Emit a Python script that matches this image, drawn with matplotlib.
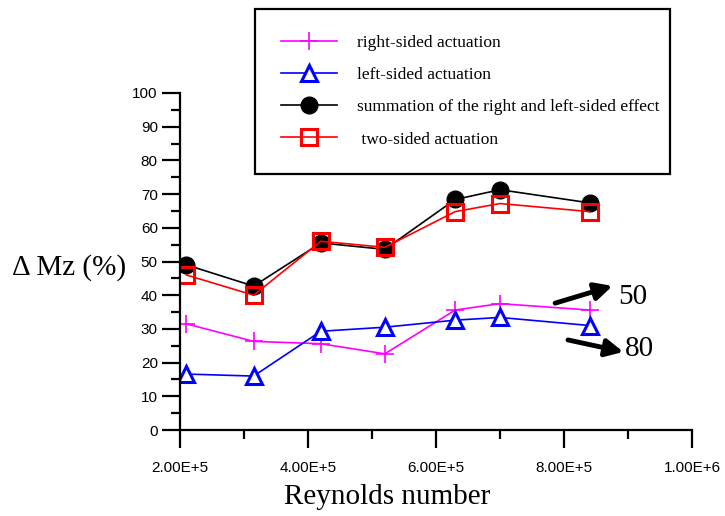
import matplotlib
matplotlib.use("Agg")
import matplotlib.pyplot as plt
from matplotlib.ticker import MultipleLocator, FuncFormatter

# data
reynolds = [2.1e5, 3.15e5, 4.2e5, 5.2e5, 6.3e5, 7.0e5, 8.4e5]
right_sided = [31.5, 26.3, 25.6, 22.6, 35.6, 37.5, 35.6]
left_sided = [16.6, 16.0, 29.3, 30.5, 32.6, 33.4, 31.0]
summation = [49.0, 42.7, 55.5, 53.6, 68.4, 71.3, 67.4]
two_sided = [46.0, 40.0, 56.0, 54.2, 64.8, 67.2, 64.8]

labels = ["right-sided actuation", "left-sided actuation",
          "summation of the right and left-sided effect", " two-sided actuation"]

W, H = 725, 516
fig = plt.figure(figsize=(W / 100, H / 100), dpi=100)
ax = fig.add_axes([180 / W, 86 / H, 512 / W, 337 / H])

ax.plot(reynolds, right_sided, color="#ff00ff", lw=1.2, marker="+", ms=13, mew=1.2,
        label=labels[0])
ax.plot(reynolds, left_sided, color="#0000ff", lw=1.2, marker="^", ms=11, mew=2.2,
        mfc="white", label=labels[1])
ax.plot(reynolds, summation, color="black", lw=1.2, marker="o", ms=12,
        label=labels[2])
ax.plot(reynolds, two_sided, color="#ff0000", lw=1.2, marker="s", ms=11, mew=2.2,
        mfc="none", label=labels[3])

ax.set_xlim(2e5, 1e6)
ax.set_ylim(0, 100)
ax.spines["top"].set_visible(False)
ax.spines["right"].set_visible(False)
for s in ("left", "bottom"):
    ax.spines[s].set_linewidth(1.6)

ax.xaxis.set_major_locator(MultipleLocator(2e5))
ax.xaxis.set_minor_locator(MultipleLocator(1e5))
ax.yaxis.set_major_locator(MultipleLocator(10))
ax.yaxis.set_minor_locator(MultipleLocator(5))


def sci(v, pos):
    e = 0
    while v >= 10 ** (e + 1):
        e += 1
    return f"{v / 10 ** e:.2f}E+{e}"


ax.xaxis.set_major_formatter(FuncFormatter(sci))
ax.tick_params(which="major", direction="out", length=13, width=1.6)
ax.tick_params(which="minor", direction="out", length=6.5, width=1.6)
ax.tick_params(axis="x", which="major", pad=9)
ax.tick_params(axis="y", which="major", pad=3)
for t in ax.get_xticklabels() + ax.get_yticklabels():
    t.set_fontfamily("Liberation Sans")
    t.set_fontsize(11)

leg = ax.legend(loc="upper left", bbox_to_anchor=(255 / W, 1 - 169 / H, 415 / W, 160 / H),
                bbox_transform=fig.transFigure, mode="expand", borderaxespad=0,
                prop={"family": "Liberation Serif", "size": 12.5},
                handlelength=3.2, handletextpad=1.2, borderpad=1.5, labelspacing=0.92,
                fancybox=False, framealpha=1, numpoints=1)
leg.get_frame().set_edgecolor("black")
leg.get_frame().set_linewidth(1.6)

# arrows with labels
ax.annotate("", xy=(8.8e5, 43.0), xytext=(7.82e5, 37.4),
            arrowprops=dict(arrowstyle="-|>", lw=3.5, color="black", mutation_scale=26))
ax.text(8.84e5, 39.5, "50", fontsize=21, family="Liberation Serif", va="center", ha="left")
ax.annotate("", xy=(8.97e5, 23.0), xytext=(8.02e5, 26.9),
            arrowprops=dict(arrowstyle="-|>", lw=3.5, color="black", mutation_scale=26))
ax.text(8.95e5, 23.9, "80", fontsize=21, family="Liberation Serif", va="center", ha="left")

fig.text(12 / W, 1 - 268 / H, "Δ Mz (%)", fontsize=21, family="Liberation Serif",
         va="center", ha="left")
fig.text(387 / W, 1 - 497 / H, "Reynolds number", fontsize=21, family="Liberation Serif",
         va="center", ha="center")

fig.savefig("out.png", dpi=100)
